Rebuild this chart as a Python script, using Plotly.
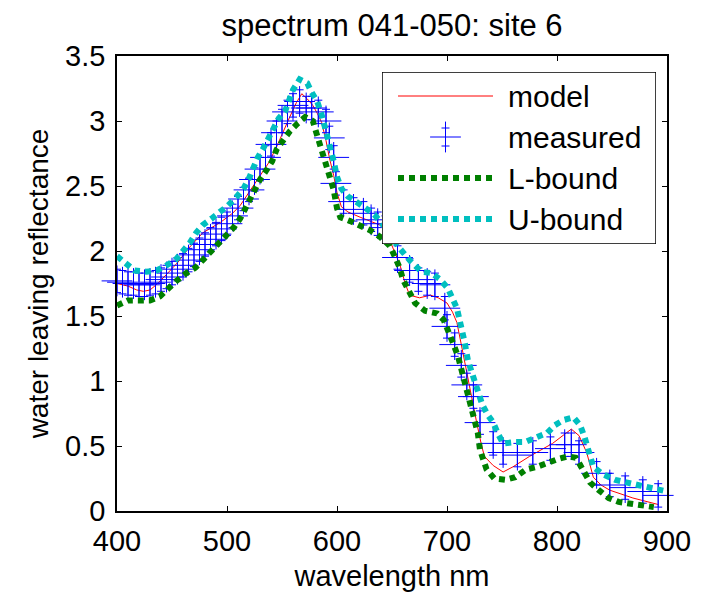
import plotly.graph_objects as go

# ---- data ----
model_wl = [400, 410, 418, 424, 430, 437, 445, 455, 465, 478, 494, 505, 512, 520, 530,
            538, 545, 551, 557, 563, 568, 573, 578, 582, 586, 590, 593, 597, 600, 604,
            610, 621, 630, 639, 645, 651, 657, 662, 666, 675, 685, 692, 700, 705, 709,
            713, 718, 722, 727, 731, 734, 742, 751, 760, 775, 796, 813, 820, 827, 833,
            840, 848, 869, 892]
model_val = [1.75, 1.73, 1.70, 1.69, 1.70, 1.75, 1.82, 1.91, 2.02, 2.14, 2.22, 2.29, 2.35, 2.45, 2.57,
             2.68, 2.80, 2.92, 3.03, 3.14, 3.21, 3.17, 3.12, 3.06, 2.99, 2.85, 2.72, 2.58, 2.45, 2.34,
             2.30, 2.26, 2.23, 2.20, 2.14, 2.02, 1.90, 1.75, 1.66, 1.64, 1.66, 1.64, 1.60, 1.53, 1.45,
             1.28, 1.06, 0.90, 0.68, 0.52, 0.42, 0.35, 0.30, 0.34, 0.42, 0.52, 0.63, 0.58, 0.45, 0.26,
             0.20, 0.16, 0.10, 0.05]

meas_wl = [400, 405, 410, 415, 420, 425, 430, 435, 440, 445, 450, 455, 460, 465, 470,
           475, 480, 485, 490, 495, 500, 505, 510, 515, 520, 525, 530, 535, 540, 545,
           550, 555, 560, 566, 572, 577, 583, 590, 593, 597, 599, 606, 615, 624, 631,
           637, 644, 655, 666, 674, 682, 689, 698, 700, 707, 713, 718, 724, 730, 742,
           751, 764, 778, 794, 807, 813, 820, 836, 848, 862, 878, 892]
meas_val = [1.77, 1.76, 1.75, 1.75, 1.74, 1.74, 1.75, 1.76, 1.78, 1.80, 1.83, 1.86, 1.89, 1.93, 1.97,
            2.01, 2.05, 2.09, 2.13, 2.17, 2.21, 2.27, 2.33, 2.40, 2.47, 2.55, 2.63, 2.72, 2.82, 2.91,
            3.00, 3.07, 3.12, 3.15, 3.10, 3.10, 3.07, 3.00, 2.87, 2.72, 2.52, 2.38, 2.32, 2.29, 2.24,
            2.21, 2.18, 1.95, 1.85, 1.78, 1.75, 1.74, 1.56, 1.42, 1.28, 1.12, 0.97, 0.88, 0.68, 0.52,
            0.45, 0.43, 0.45, 0.48, 0.51, 0.51, 0.45, 0.29, 0.20, 0.18, 0.15, 0.12]

lb_wl = [400, 410, 420, 430, 439, 447, 454, 463, 471, 478, 485, 492, 500, 506, 512,
         516, 521, 526, 530, 535, 541, 545, 551, 557, 564, 571, 578, 581, 584, 588,
         591, 594, 597, 600, 603, 612, 621, 630, 639, 648, 653, 657, 660, 665, 671,
         680, 691, 697, 701, 706, 710, 714, 718, 722, 726, 728, 730, 736, 743, 753,
         762, 772, 782, 791, 801, 810, 817, 820, 825, 830, 838, 847, 856, 865, 876,
         888]
lb_val = [1.58, 1.62, 1.62, 1.62, 1.65, 1.72, 1.77, 1.83, 1.87, 1.93, 1.99, 2.06, 2.12, 2.18, 2.25,
          2.32, 2.41, 2.48, 2.55, 2.61, 2.69, 2.78, 2.86, 2.92, 2.98, 3.03, 3.00, 2.92, 2.82, 2.73,
          2.65, 2.57, 2.47, 2.33, 2.26, 2.23, 2.20, 2.16, 2.11, 2.04, 1.95, 1.87, 1.78, 1.70, 1.60,
          1.54, 1.52, 1.47, 1.37, 1.28, 1.19, 1.06, 0.96, 0.80, 0.70, 0.60, 0.47, 0.32, 0.25, 0.24,
          0.26, 0.32, 0.34, 0.37, 0.40, 0.42, 0.41, 0.37, 0.29, 0.22, 0.16, 0.10, 0.07, 0.06, 0.05,
          0.03]

ub_wl = [400, 407, 416, 427, 436, 445, 453, 459, 466, 472, 478, 486, 494, 501, 509,
         515, 520, 524, 528, 533, 538, 542, 547, 553, 560, 566, 573, 577, 582, 586,
         590, 593, 597, 600, 604, 610, 618, 626, 634, 645, 657, 667, 677, 686, 694,
         701, 709, 713, 716, 719, 724, 732, 737, 742, 746, 751, 762, 771, 782, 791,
         798, 806, 815, 821, 825, 828, 833, 842, 853, 863, 874, 881, 890, 900]
ub_val = [1.96, 1.91, 1.85, 1.84, 1.85, 1.89, 1.93, 1.99, 2.06, 2.14, 2.20, 2.25, 2.30, 2.35, 2.42,
          2.48, 2.56, 2.64, 2.72, 2.79, 2.87, 2.94, 3.02, 3.08, 3.24, 3.32, 3.29, 3.22, 3.15, 3.05,
          2.93, 2.82, 2.69, 2.57, 2.48, 2.42, 2.38, 2.33, 2.28, 2.17, 2.02, 1.92, 1.84, 1.83, 1.78,
          1.71, 1.56, 1.43, 1.30, 1.16, 1.03, 0.82, 0.74, 0.68, 0.60, 0.52, 0.53, 0.53, 0.57, 0.60,
          0.66, 0.70, 0.72, 0.66, 0.57, 0.48, 0.34, 0.28, 0.24, 0.22, 0.20, 0.18, 0.16, 0.15]

x_ticks = [400, 500, 600, 700, 800, 900]
y_ticks = [0, 0.5, 1, 1.5, 2, 2.5, 3, 3.5]
legend_labels = ["model", "measured", "L-bound", "U-bound"]

RED = "#FF0000"
BLUE = "#0000FF"
GREEN = "#008000"
CYAN = "#00BFBF"
FONT = "Liberation Sans, Arial, sans-serif"

# figure geometry (pixels)
W, H = 703, 599
ML, MR, MT, MB = 117, 36, 56, 88
PW, PH = W - ML - MR, H - MT - MB

dotted = dict(width=6, dash="6px,5px")
cross = dict(symbol="cross-thin-open", size=22, color=BLUE,
             line=dict(color=BLUE, width=1))

fig = go.Figure()

fig.add_trace(go.Scatter(x=model_wl, y=model_val, mode="lines",
                         line=dict(color=RED, width=1), showlegend=False))
fig.add_trace(go.Scatter(x=meas_wl, y=meas_val, mode="markers", marker=cross,
                         error_y=dict(type="constant", value=0.09, color=BLUE,
                                      thickness=1, width=4),
                         cliponaxis=False, showlegend=False))
fig.add_trace(go.Scatter(x=lb_wl, y=lb_val, mode="lines",
                         line=dict(color=GREEN, **dotted), showlegend=False))
fig.add_trace(go.Scatter(x=ub_wl, y=ub_val, mode="lines",
                         line=dict(color=CYAN, **dotted), showlegend=False))

# ---- hand-built legend box on its own pixel-scaled axes ----
LX0, LX1, LY0, LY1 = 382, 656, 72, 244
row_y = [96, 137, 178, 219]
samp_x = [398, 493]
text_x = 506

fig.add_shape(type="rect", xref="x2", yref="y2", x0=LX0, x1=LX1, y0=LY0, y1=LY1,
              line=dict(color="black", width=1.5), fillcolor="white", layer="below")
fig.add_trace(go.Scatter(x=samp_x, y=[row_y[0]] * 2, mode="lines",
                         line=dict(color=RED, width=1), xaxis="x2", yaxis="y2",
                         showlegend=False))
fig.add_trace(go.Scatter(x=[sum(samp_x) / 2], y=[row_y[1]], mode="markers",
                         marker=cross,
                         error_y=dict(type="constant", value=9, color=BLUE,
                                      thickness=1, width=4),
                         xaxis="x2", yaxis="y2", showlegend=False))
fig.add_trace(go.Scatter(x=samp_x, y=[row_y[2]] * 2, mode="lines",
                         line=dict(color=GREEN, **dotted), xaxis="x2", yaxis="y2",
                         showlegend=False))
fig.add_trace(go.Scatter(x=samp_x, y=[row_y[3]] * 2, mode="lines",
                         line=dict(color=CYAN, **dotted), xaxis="x2", yaxis="y2",
                         showlegend=False))
for lab, yy in zip(legend_labels, row_y):
    fig.add_annotation(x=text_x, y=yy, xref="x2", yref="y2", text=lab,
                       showarrow=False, xanchor="left", yanchor="middle",
                       font=dict(family=FONT, size=30, color="black"))

axis_common = dict(showline=True, linecolor="black", linewidth=1.5, mirror="allticks",
                   ticks="inside", ticklen=5, tickwidth=1, tickcolor="black",
                   showgrid=False, zeroline=False,
                   tickfont=dict(family=FONT, size=29, color="black"))

fig.update_layout(
    width=W, height=H,
    margin=dict(l=ML, r=MR, t=MT, b=MB),
    paper_bgcolor="white", plot_bgcolor="white",
    showlegend=False,
    title=dict(text="spectrum 041-050: site 6", x=(ML + PW / 2) / W, xanchor="center",
               y=1 - 25 / H, yanchor="middle", yref="container",
               font=dict(family=FONT, size=31, color="black")),
    xaxis=dict(range=[400, 900], tickvals=x_ticks, ticklabelstandoff=3,
               title=dict(text="wavelength nm", standoff=10,
                          font=dict(family=FONT, size=29, color="black")),
               **axis_common),
    yaxis=dict(range=[0, 3.5], tickvals=y_ticks, ticklabelstandoff=4,
               title=dict(text="water leaving reflectance", standoff=8,
                          font=dict(family=FONT, size=28, color="black")),
               **axis_common),
    xaxis2=dict(domain=[(LX0 - ML) / PW, (LX1 - ML) / PW], range=[LX0, LX1],
                visible=False, anchor="y2", fixedrange=True),
    yaxis2=dict(domain=[(MT + PH - LY1) / PH, (MT + PH - LY0) / PH], range=[LY1, LY0],
                visible=False, anchor="x2", fixedrange=True),
)

fig.write_html("out.html")
